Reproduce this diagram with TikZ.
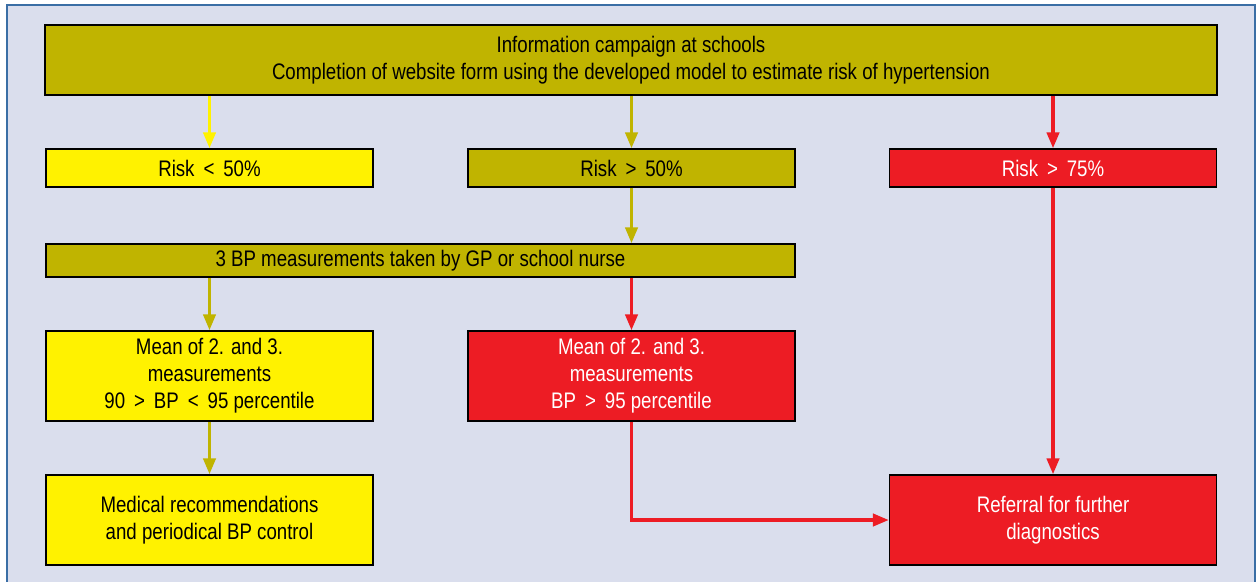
\documentclass[tikz,border=0pt]{standalone}
\usepackage{fontspec}
\setmainfont[FakeStretch=0.83]{Liberation Sans}
\usetikzlibrary{arrows.meta}

\definecolor{boxolive}{RGB}{192,180,0}
\definecolor{boxyellow}{RGB}{255,242,0}
\definecolor{boxred}{RGB}{237,28,36}
\definecolor{bglav}{RGB}{218,222,237}
\definecolor{framblue}{RGB}{58,110,165}

\begin{document}
\begin{tikzpicture}[x=0.02cm, y=-0.02cm, >={Triangle[length=9pt,width=7pt]},
  box/.style={draw=black, line width=0.9pt, inner sep=0pt, align=center,
    font=\fontsize{12.8}{15.3}\selectfont},
  small/.style={box, minimum width=6.54cm},
  flow/.style={->, line width=1.8pt}]

    %% background and frame
    \useasboundingbox (0,0) rectangle (1256,581);
    \fill[bglav] (7,5) rectangle (1256,600);
    \draw[framblue, line width=1.2pt] (7,600) -- (7,5) -- (1255,5) -- (1255,600);

    %% boxes
    \node[box, fill=boxolive, minimum width=23.44cm, minimum height=1.4cm] (campaign) at (631,60)
      {Information campaign at schools\\Completion of website form using the developed model to estimate risk of hypertension};
    \node[small, fill=boxyellow, minimum height=0.76cm] (low) at (209.5,168) {Risk \,<\, 50\%};
    \node[small, fill=boxolive, minimum height=0.76cm] (mid) at (631.5,168) {Risk \,>\, 50\%};
    \node[small, fill=boxred, text=white, minimum height=0.76cm] (high) at (1053,168) {Risk \,>\, 75\%};
    \node[box, fill=boxolive, minimum width=14.98cm, minimum height=0.66cm] (bp) at (420.5,260.5)
      {3 BP measurements taken by GP or school nurse};
    \node[small, fill=boxyellow, minimum height=1.8cm] (meanlow) at (209.5,376)
      {Mean of 2. and 3.\\measurements\\90 \,>\, BP \,<\, 95 percentile};
    \node[small, fill=boxred, text=white, minimum height=1.8cm] (meanhigh) at (631.5,376)
      {Mean of 2. and 3.\\measurements\\BP \,>\, 95 percentile};
    \node[small, fill=boxyellow, minimum height=1.8cm] (advice) at (209.5,520)
      {Medical recommendations\\and periodical BP control};
    \node[small, fill=boxred, text=white, minimum height=1.8cm] (referral) at (1053,520)
      {Referral for further\\diagnostics};

    %% connectors
    \draw[flow, boxyellow] (campaign.south -| low.north) -- (low.north);
    \draw[flow, boxolive] (campaign.south -| mid.north) -- (mid.north);
    \draw[flow, boxred] (campaign.south -| high.north) -- (high.north);
    \draw[flow, boxolive] (mid.south) -- (bp.north -| mid.south);
    \draw[flow, boxolive] (bp.south -| meanlow.north) -- (meanlow.north);
    \draw[flow, boxred] (bp.south -| meanhigh.north) -- (meanhigh.north);
    \draw[flow, boxolive] (meanlow.south) -- (advice.north);
    \draw[flow, boxred] (high.south) -- (referral.north);
    \draw[flow, boxred] (meanhigh.south) |- (referral.west);
\end{tikzpicture}
\end{document}
